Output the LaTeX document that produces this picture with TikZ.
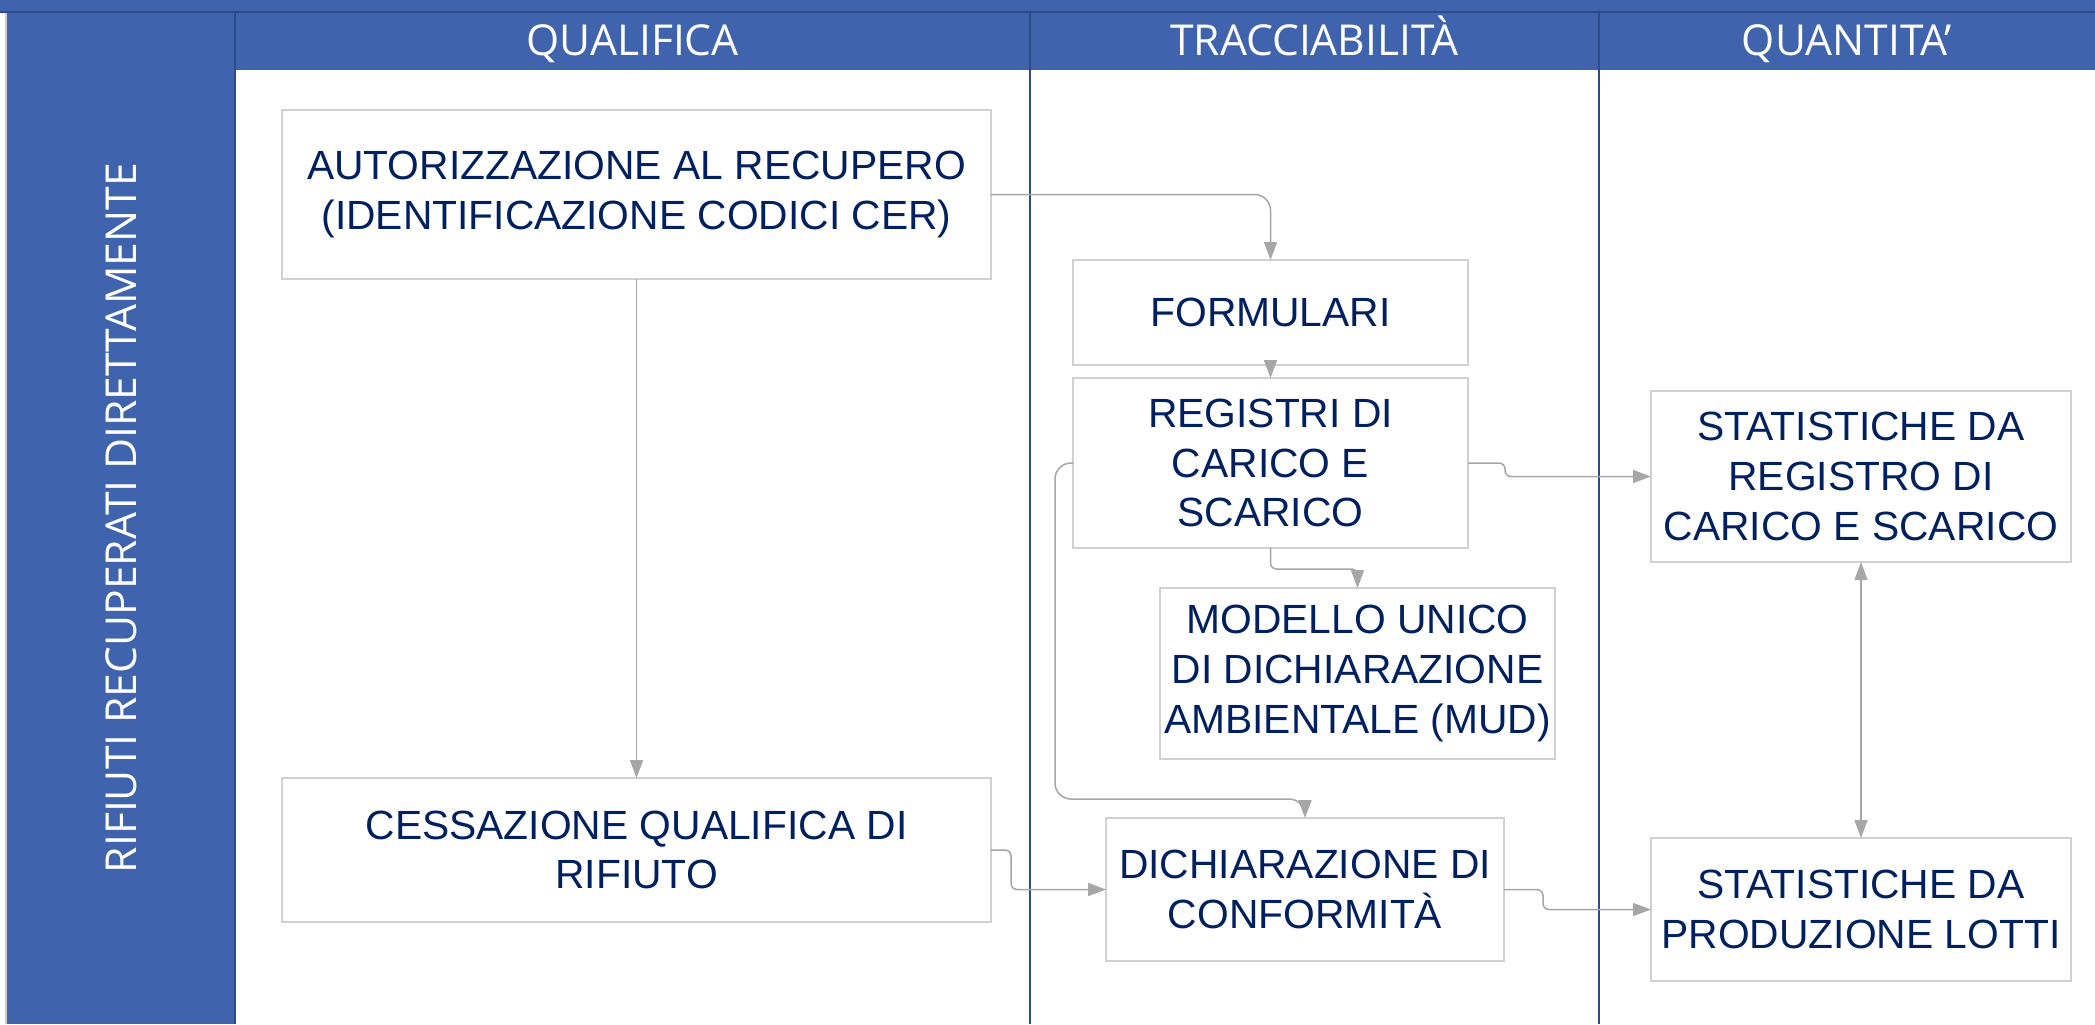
\documentclass[tikz,border=0pt]{standalone}
\usepackage{fontspec}
\setmainfont{Liberation Sans}
\newfontfamily\hdrfont{Open Sans}
\usetikzlibrary{arrows.meta,calc}
\definecolor{bandblue}{RGB}{63,100,173}
\definecolor{lineblue}{RGB}{44,74,140}
\definecolor{navy}{RGB}{0,32,96}
\definecolor{boxgray}{RGB}{208,208,208}
\definecolor{conngray}{RGB}{166,166,166}
\begin{document}
\begin{tikzpicture}[x=0.5pt,y=-0.5pt,
  >={Triangle[length=9pt,width=6.5pt]},
  box/.style={draw=boxgray,line width=0.75pt,fill=white,inner sep=0pt,outer sep=0pt,align=center,text=navy,font=\fontsize{20.4}{24.8}\selectfont},
  conn/.style={draw=conngray,line width=0.75pt,->,rounded corners=8pt},
  jog/.style={draw=conngray,line width=0.75pt,->,rounded corners=3pt},
  hdr/.style={text=white,font=\hdrfont\fontsize{21.3}{24}\selectfont,inner sep=0pt},
  divider/.style={draw=lineblue,line width=1pt}]
\useasboundingbox (0,0) rectangle (2095,1024);
\fill[white] (0,0) rectangle (2095,1024);
% bands
\fill[bandblue] (0,0) rectangle (2095,12);
\fill[bandblue] (7,12) rectangle (235,1024);
\fill[bandblue] (235,12) rectangle (2095,70);
\draw[black!20,line width=0.75pt] (6,12) -- (6,1024);
\draw[lineblue,line width=1pt] (0,12) -- (2095,12);
\draw[divider] (235,12) -- (235,1024);
\draw[divider] (1030,12) -- (1030,1024);
\draw[divider] (1599,12) -- (1599,1024);
% headers
\node[hdr,anchor=base] (hq) at (632.5,55) {QUALIFICA};
\node[hdr,anchor=base] (ht) at (1314.5,55) {TRACCIABILITÀ};
\node[hdr,anchor=base] (hn) at (1847,55) {QUANTITA’};
\node[hdr,rotate=90] (side) at (121,518) {RIFIUTI RECUPERATI DIRETTAMENTE};
% boxes
\node[box,minimum width=354.5pt,minimum height=84.5pt] (aut) at (636.5,194.5) {AUTORIZZAZIONE AL RECUPERO\\(IDENTIFICAZIONE CODICI CER)};
\node[box,minimum width=197.5pt,minimum height=52.5pt] (form) at (1270.5,312.5) {FORMULARI};
\node[box,minimum width=197.5pt,minimum height=85pt] (reg) at (1270.5,463) {REGISTRI DI\\CARICO E\\SCARICO};
\node[box,minimum width=197.5pt,minimum height=85.5pt] (mud) at (1357.5,673.5) {MODELLO UNICO\\DI DICHIARAZIONE\\AMBIENTALE (MUD)};
\node[box,minimum width=199pt,minimum height=71.5pt] (dich) at (1305,889.5) {DICHIARAZIONE DI\\CONFORMITÀ};
\node[box,minimum width=354.5pt,minimum height=72pt] (cess) at (636.5,850) {CESSAZIONE QUALIFICA DI\\RIFIUTO};
\node[box,minimum width=210pt,minimum height=85.5pt] (streg) at (1861,476.5) {STATISTICHE DA\\REGISTRO DI\\CARICO E SCARICO};
\node[box,minimum width=210pt,minimum height=71.5pt] (lotti) at (1861,909.5) {STATISTICHE DA\\PRODUZIONE LOTTI};
% connectors
\coordinate (fcorner) at (1055,799);
\draw[conn] (aut.east) -| (form.north);
\draw[conn] (aut.south) -- (cess.north);
\draw[conn] (form.south) -- (reg.north);
\draw[jog] (reg.east) -- ++(37,0) |- (streg.west);
\draw[jog] (reg.south) -- ++(0,21) -| (mud.north);
\draw[conn] (reg.west) -| (fcorner) -| (dich.north);
\draw[jog] (cess.east) -- ++(20,0) |- (dich.west);
\draw[jog] (dich.east) -- ++(39,0) |- (lotti.west);
\draw[draw=conngray,line width=0.75pt,<->] (streg.south) -- (lotti.north);
\end{tikzpicture}
\end{document}
